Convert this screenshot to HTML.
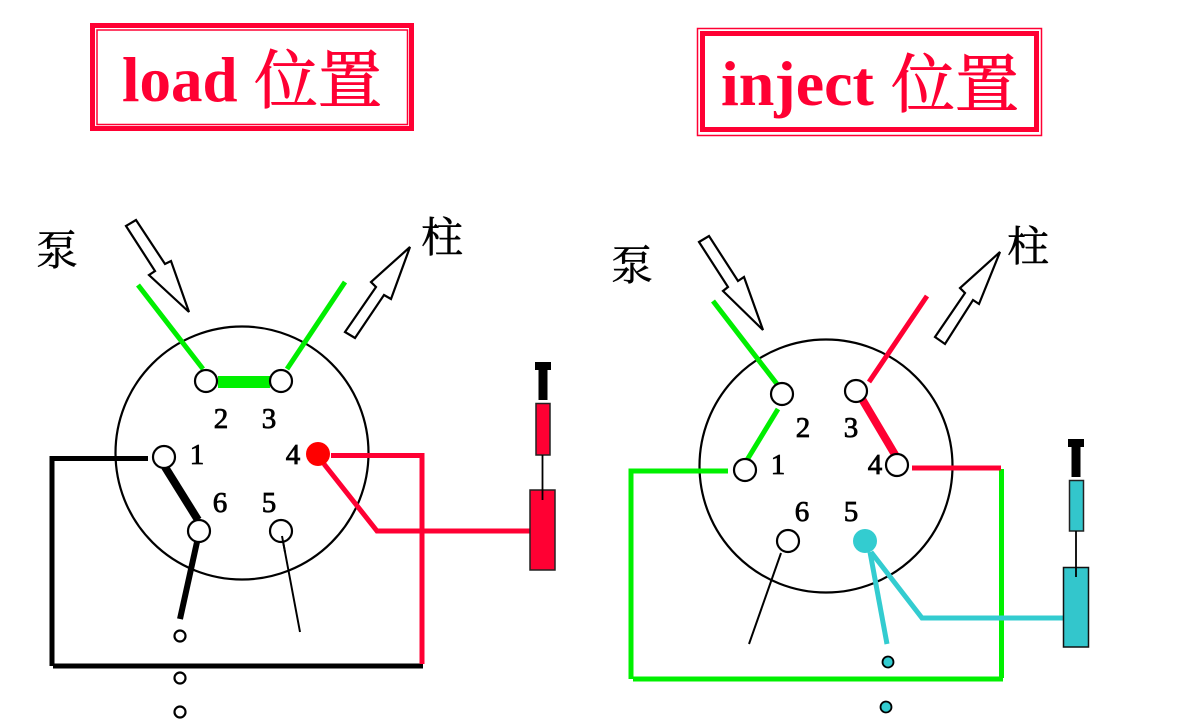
<!DOCTYPE html>
<html>
<head>
<meta charset="utf-8">
<style>
html,body{margin:0;padding:0;background:#fff;width:1201px;height:723px;overflow:hidden}
svg{display:block}
.t{font-family:"Liberation Serif","Noto Serif CJK SC",serif;font-weight:700;fill:#ff0033}
.c{font-family:"Noto Serif CJK SC","Liberation Serif",serif;fill:#ff0033;stroke:#ff0033;stroke-width:.9}
.z{font-family:"Noto Serif CJK SC","Liberation Serif",serif;fill:#000;font-size:42px;stroke:#000;stroke-width:.5}
.n{font-family:"Liberation Serif",serif;fill:#000;font-size:29px;text-anchor:middle;stroke:#000;stroke-width:.8}
.p{fill:#fff;stroke:#000;stroke-width:2.200}
.a{fill:#fff;stroke:#000;stroke-width:2.200;stroke-linejoin:miter}
line,polyline{fill:none}
</style>
</head>
<body>
<svg width="1201" height="723" viewBox="0 0 1201 723" xmlns="http://www.w3.org/2000/svg">
<!-- Titles -->
<rect x="92.500" y="25.500" width="319" height="103" fill="none" stroke="#ff0033" stroke-width="5"/>
<rect x="97" y="30" width="310.500" height="94.500" fill="none" stroke="#ff0033" stroke-width="1.500"/>
<text class="t" x="122" y="101" font-size="63">load</text>
<text class="c" x="254" y="103" font-size="64">位置</text>

<rect x="697.500" y="28.500" width="344" height="107" fill="none" stroke="#ff0033" stroke-width="1.500"/>
<rect x="702.500" y="33.500" width="334" height="96" fill="none" stroke="#ff0033" stroke-width="5"/>
<text class="t" x="721" y="105" font-size="64">inject</text>
<text class="c" x="891" y="107" font-size="64">位置</text>

<!-- LEFT -->
<text class="z" x="36" y="265">泵</text>
<text class="z" x="421" y="252">柱</text>
<polygon class="a" points="126,226 136,220 165,264 171,261 189,312 149,275 155,271"/>
<polygon class="a" points="345,332 355,338 384,295 391,299 410,247 371,282 376,287"/>
<circle cx="242" cy="453" r="126.500" fill="none" stroke="#000" stroke-width="2.200"/>
<line x1="138" y1="285" x2="203" y2="369" stroke="#00ee00" stroke-width="5"/>
<line x1="345" y1="282" x2="287" y2="369" stroke="#00ee00" stroke-width="5"/>
<rect x="218" y="376" width="52" height="12" fill="#00f000"/>
<line x1="165" y1="467" x2="198" y2="520" stroke="#000" stroke-width="8"/>
<polyline points="148,458.500 52,458.500 52,666" stroke="#000" stroke-width="5"/>
<line x1="53" y1="666" x2="423" y2="666" stroke="#000" stroke-width="5"/>
<line x1="197" y1="542" x2="180" y2="619" stroke="#000" stroke-width="6"/>
<line x1="282" y1="536" x2="300" y2="632" stroke="#000" stroke-width="2"/>
<polyline points="331,455.500 422,455.500 422,664" stroke="#ff0033" stroke-width="5"/>
<polyline points="324,464 377,531 530,531" stroke="#ff0033" stroke-width="5"/>
<circle class="p" cx="206" cy="381" r="11"/>
<circle class="p" cx="281" cy="381" r="11"/>
<circle class="p" cx="164" cy="457" r="11"/>
<circle class="p" cx="199" cy="531" r="11"/>
<circle class="p" cx="281" cy="531" r="11"/>
<line x1="282" y1="536" x2="285" y2="552" stroke="#000" stroke-width="2"/>
<circle cx="318" cy="454" r="12" fill="#ff0000"/>
<circle class="p" cx="180" cy="636" r="5.500"/>
<circle class="p" cx="180" cy="678" r="5.500"/>
<circle class="p" cx="180" cy="712" r="5.500"/>
<text class="n" x="221" y="428">2</text>
<text class="n" x="269" y="428">3</text>
<text class="n" x="197" y="464">1</text>
<text class="n" x="293" y="464">4</text>
<text class="n" x="220" y="512">6</text>
<text class="n" x="269" y="512">5</text>
<!-- left syringe -->
<rect x="535" y="362" width="16" height="8" fill="#000"/>
<rect x="538.500" y="368" width="9" height="32" fill="#000"/>
<rect x="536" y="403.500" width="14" height="51.500" fill="#ff0033" stroke="#222" stroke-width="1.500"/>
<rect x="530" y="490" width="25" height="80" fill="#ff0033" stroke="#222" stroke-width="1.500"/>
<line x1="542.500" y1="455" x2="542.500" y2="500" stroke="#000" stroke-width="1.800"/>

<!-- RIGHT -->
<text class="z" x="611" y="280">泵</text>
<text class="z" x="1007" y="261">柱</text>
<polygon class="a" points="699,242 709,236 738,281 744,277 763,330 723,291 728,287"/>
<polygon class="a" points="935,337 945,344 973,300 979,304 1000,252 960,288 965,293"/>
<circle cx="826" cy="466" r="126.500" fill="none" stroke="#000" stroke-width="2.200"/>
<line x1="713" y1="301" x2="777" y2="384" stroke="#00ee00" stroke-width="5"/>
<line x1="778" y1="409" x2="747" y2="460" stroke="#00ee00" stroke-width="5"/>
<line x1="927" y1="296" x2="869" y2="382" stroke="#ff0033" stroke-width="5"/>
<line x1="862" y1="399" x2="897" y2="458" stroke="#ff0033" stroke-width="8"/>
<polyline points="728,471 631,471 631,679" stroke="#00f000" stroke-width="5"/>
<line x1="633" y1="679" x2="1003" y2="679" stroke="#00f000" stroke-width="5"/>
<line x1="1001.500" y1="469" x2="1001.500" y2="678" stroke="#00f000" stroke-width="5"/>
<line x1="912" y1="468" x2="1001" y2="468" stroke="#ff0033" stroke-width="5"/>
<line x1="781" y1="553" x2="749" y2="644" stroke="#000" stroke-width="2"/>
<polyline points="871,552 922,618 1063,618" stroke="#33ccd0" stroke-width="5"/>
<line x1="870" y1="552" x2="887" y2="644" stroke="#33ccd0" stroke-width="5"/>
<circle class="p" cx="745" cy="470" r="11"/>
<circle class="p" cx="782" cy="394" r="11"/>
<circle class="p" cx="856" cy="391" r="11"/>
<circle class="p" cx="897" cy="465" r="11"/>
<circle class="p" cx="788" cy="541" r="11"/>
<circle cx="865" cy="541" r="12" fill="#33ccd0"/>
<circle cx="888" cy="662" r="5.500" fill="#33ccd0" stroke="#000" stroke-width="1.800"/>
<circle cx="886" cy="707" r="5.500" fill="#33ccd0" stroke="#000" stroke-width="1.800"/>
<text class="n" x="803" y="437">2</text>
<text class="n" x="851" y="437">3</text>
<text class="n" x="778" y="474">1</text>
<text class="n" x="875" y="474">4</text>
<text class="n" x="802" y="521">6</text>
<text class="n" x="851" y="521">5</text>
<!-- right syringe -->
<rect x="1068" y="439" width="16" height="8" fill="#000"/>
<rect x="1071.500" y="445" width="9" height="32" fill="#000"/>
<rect x="1069.500" y="480.500" width="14" height="50.500" fill="#33c6cc" stroke="#222" stroke-width="1.500"/>
<rect x="1063.500" y="567.500" width="25" height="79.500" fill="#33c6cc" stroke="#111" stroke-width="1.500"/>
<line x1="1076" y1="531" x2="1076" y2="577" stroke="#000" stroke-width="1.800"/>
</svg>
</body>
</html>
